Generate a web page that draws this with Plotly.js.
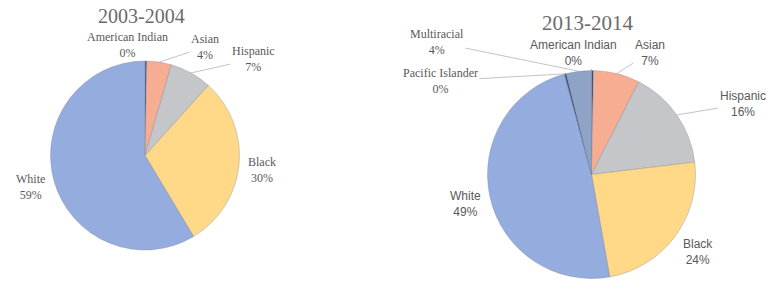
<!DOCTYPE html>
<html><head><meta charset="utf-8">
<script src="https://cdn.plot.ly/plotly-3.0.1.min.js"></script>
<style>html,body{margin:0;padding:0;background:#fff}#chart{width:774px;height:298px}</style>
</head><body><div id="chart"></div>
<script>
// ---- data ----
const titleA = '2003-2004';
const labelsA = ['American Indian', 'Asian', 'Hispanic', 'Black', 'White'];
const valuesA = [0.3, 4.2, 7.2, 29.7, 58.6];
const colorsA = ['#4A6596', '#F7AD92', '#C5C6CA', '#FFD888', '#95ACDF'];

const titleB = '2013-2014';
const labelsB = ['American Indian', 'Asian', 'Hispanic', 'Black', 'White', 'Pacific Islander', 'Multiracial'];
const valuesB = [0.3, 7.2, 15.6, 24.1, 48.6, 0.3, 3.9];
const colorsB = ['#34507F', '#F7AD92', '#C5C6CA', '#FFD888', '#95ACDF', '#3C5888', '#8EA3C6'];

// ---- layout constants (pixels) ----
const W = 774, H = 298;
const pieA = {cx: 145, cy: 155.5, r: 94.5};
const pieB = {cx: 591.5, cy: 174.5, r: 104};
// label offsets (px from slice edge midpoint), leader flag, font
const SERIF = 'Liberation Serif, Times New Roman, serif';
const SANS = 'Liberation Sans, Arial, sans-serif';
const styleA = [
  {ax: -18, ay: -16, lead: true, f: SERIF},
  {ax: 46, ay: -15, lead: true, f: SERIF},
  {ax: 62, ay: -14, lead: true, f: SERIF},
  {ax: 23, ay: 5, lead: false, f: SERIF},
  {ax: -23, ay: 6, lead: false, f: SERIF}
];
const styleB = [
  {ax: -19, ay: -18, lead: true, f: SANS},
  {ax: 33, ay: -21, lead: true, f: SANS},
  {ax: 66, ay: -11, lead: true, f: SANS},
  {ax: 23, ay: 16, lead: false, f: SANS},
  {ax: -25, ay: 7, lead: false, f: SANS},
  {ax: -125, ay: 7, lead: true, f: SERIF},
  {ax: -142, ay: -29, lead: true, f: SERIF}
];

function domainOf(p) {
  return {
    x: [(p.cx - p.r) / W, (p.cx + p.r) / W],
    y: [1 - (p.cy + p.r) / H, 1 - (p.cy - p.r) / H]
  };
}

function makeTrace(labels, values, colors, pie) {
  return {
    type: 'pie', labels: labels, values: values, sort: false,
    direction: 'clockwise', rotation: 0, textinfo: 'none', hoverinfo: 'label+percent',
    marker: {colors: colors, line: {color: 'rgba(110,115,135,0.5)', width: 0.6}},
    domain: domainOf(pie), showlegend: false
  };
}

function makeLabels(labels, values, pie, styles) {
  const sum = values.reduce((a, b) => a + b, 0);
  let cum = 0;
  const out = [];
  labels.forEach((lab, i) => {
    const mid = (cum + values[i] / 2) / sum;
    cum += values[i];
    const th = 2 * Math.PI * mid;
    const px = pie.cx + pie.r * Math.sin(th);
    const py = pie.cy - pie.r * Math.cos(th);
    const s = styles[i];
    const pct = Math.round(values[i] / sum * 100);
    out.push({
      xref: 'paper', yref: 'paper', x: px / W, y: 1 - py / H,
      text: lab + '<br>' + pct + '%', align: 'center',
      showarrow: true, arrowhead: 0, arrowwidth: 0.8, standoff: 0, startstandoff: 0,
      arrowcolor: s.lead ? '#b5b5b5' : 'rgba(0,0,0,0)',
      ax: s.ax, ay: s.ay,
      font: {family: s.f, size: 12, color: '#595959'}
    });
  });
  return out;
}

const annotations = []
  .concat(makeLabels(labelsA, valuesA, pieA, styleA))
  .concat(makeLabels(labelsB, valuesB, pieB, styleB))
  .concat([
    {xref: 'paper', yref: 'paper', x: 141 / W, y: 1 - 16 / H, xanchor: 'center', yanchor: 'middle',
     text: titleA, showarrow: false, font: {family: SERIF, size: 20, color: '#6b6b6b'}},
    {xref: 'paper', yref: 'paper', x: 587 / W, y: 1 - 23 / H, xanchor: 'center', yanchor: 'middle',
     text: titleB, showarrow: false, font: {family: SERIF, size: 21, color: '#6b6b6b'}}
  ]);

Plotly.newPlot('chart', [
  makeTrace(labelsA, valuesA, colorsA, pieA),
  makeTrace(labelsB, valuesB, colorsB, pieB)
], {
  width: W, height: H, margin: {l: 0, r: 0, t: 0, b: 0},
  paper_bgcolor: '#fff', plot_bgcolor: '#fff',
  annotations: annotations
}, {displayModeBar: false, staticPlot: true});
</script></body></html>
